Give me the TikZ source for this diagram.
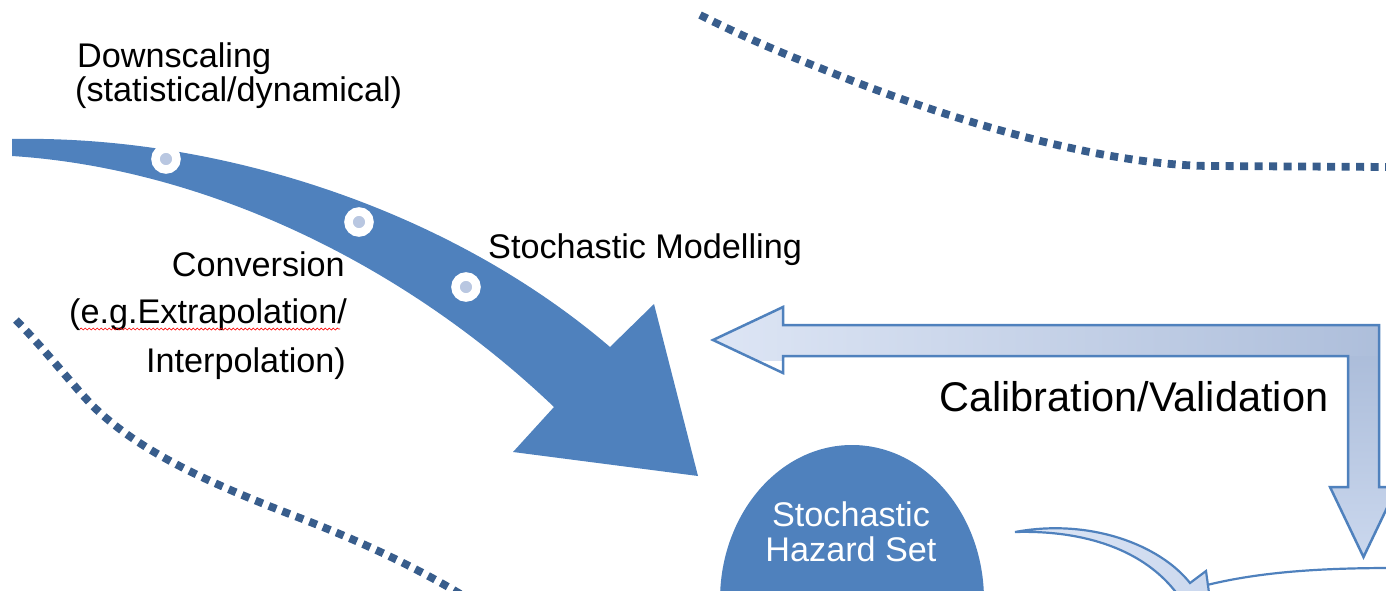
\documentclass[tikz,border=0pt]{standalone}
\usepackage{fontspec}
\setmainfont{Liberation Sans}
\usetikzlibrary{decorations.pathmorphing,shapes.geometric}

\definecolor{accent}{RGB}{79,129,189}
\definecolor{dotline}{RGB}{56,93,140}
\definecolor{studfill}{RGB}{185,199,225}
\definecolor{calLight}{RGB}{222,230,245}
\definecolor{calDark}{RGB}{172,189,218}
\definecolor{calTip}{RGB}{203,216,238}

\begin{document}
\begin{tikzpicture}[x=1pt,y=-1pt,
  txt/.style={inner sep=0pt, font=\fontsize{34.2}{40}\selectfont},
  bigtxt/.style={inner sep=0pt, font=\fontsize{41.5}{48}\selectfont},
  trail/.style={draw=dotline, line width=7.8pt, dash pattern=on 8pt off 6.5pt},
  stud/.style={circle, draw=white, line width=8.5pt, fill=studfill,
               minimum size=21pt, inner sep=0pt},
  outline/.style={draw=accent, line width=2.5pt, line join=miter}]

\useasboundingbox (0,0) rectangle (1386,591);
\clip (0,0) rectangle (1386,591);

% dotted boundary curves
\draw[trail] (700,15) .. controls (760,45) and (800,60) .. (835,74)
  .. controls (950,120) and (1100,165) .. (1210,166) -- (1390,167);
\draw[trail] (16,320) .. controls (50,355) and (78,392) .. (97,410)
  .. controls (140,450) and (200,480) .. (300,518)
  .. controls (370,545) and (420,570) .. (462,595);

% main curved arrow
\fill[accent] (12,139) .. controls (220,135) and (450,210) .. (610,347)
  -- (654,304) -- (698,476) -- (513,452) -- (554,407)
  .. controls (400,260) and (200,168) .. (12,156) -- cycle;

% studs on the arrow
\node[stud] (s1) at (166,159) {};
\node[stud] (s2) at (359,222) {};
\node[stud] (s3) at (466,287) {};

% calibration / validation loop arrow
\def\calshape{(713,340) -- (783,307) -- (783,325) -- (1379,325) -- (1379,487)
  -- (1397,487) -- (1363.5,557) -- (1330,487) -- (1348,487) -- (1348,356)
  -- (783,356) -- (783,373) -- cycle}
\begin{scope}
  \clip \calshape;
  \shade[left color=calLight, right color=calDark] (700,300) rectangle (1400,360);
  \shade[top color=calDark, bottom color=calTip] (1320,356) rectangle (1400,560);
\end{scope}
\draw[outline] \calshape;

% hazard set
\node[ellipse, fill=accent, minimum width=264pt, minimum height=310pt, inner sep=0pt]
  (hazard) at (852,600) {};
\node[txt, anchor=base, text=white] (haz1) at (851,526) {Stochastic};
\node[txt, anchor=base, text=white] (haz2) at (851,561) {Hazard Set};

% outgoing bent arrow
\def\bendshape{(1015,532) .. controls (1090,518) and (1160,545) .. (1190,583)
  -- (1206,571) -- (1210,600) -- (1180,600) -- (1178,595)
  .. controls (1145,550) and (1085,530) .. (1015,532) -- cycle}
\begin{scope}
  \clip \bendshape;
  \shade[left color=calLight, right color=calTip] (1010,520) rectangle (1215,600);
\end{scope}
\draw[outline, line width=2.2pt] \bendshape;
\coordinate (rimstart) at (1207,585);
\coordinate (rimend) at (1392,568);
\draw[accent, line width=2.2pt] (rimstart) .. controls (1260,572) and (1320,568) .. (rimend);

% labels
\node[txt, anchor=base west] (down1) at (77,68) {Downscaling};
\node[txt, anchor=base west] (down2) at (75,102) {(statistical/dynamical)};
\node[txt, anchor=base east] (conv1) at (345,276) {Conversion};
\node[txt, anchor=base east] (conv2) at (347,323) {(e.g.Extrapolation/};
\node[txt, anchor=base east] (conv3) at (346,372) {Interpolation)};
\node[txt, anchor=base west] (model) at (488,258) {Stochastic Modelling};
\node[bigtxt, anchor=base west] (calib) at (939,411) {Calibration/Validation};

% spelling mark under the abbreviation
\draw[red, line width=0.7pt, decorate,
      decoration={snake, segment length=4pt, amplitude=1pt}]
  (80,329) -- (340,329);

\end{tikzpicture}
\end{document}
